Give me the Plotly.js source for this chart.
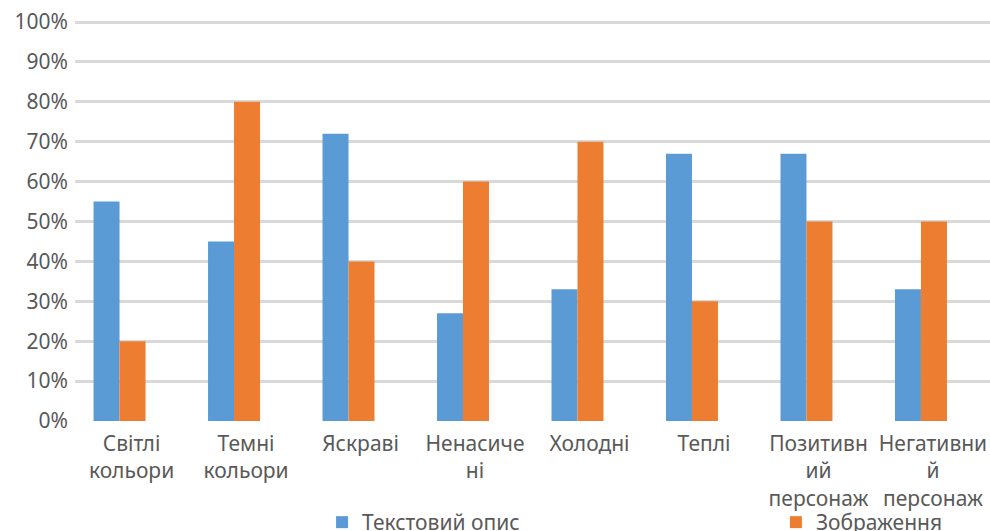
<!DOCTYPE html>
<html>
<head>
<meta charset="utf-8">
<script src="https://cdn.plot.ly/plotly-3.0.1.min.js"></script>
<style>html,body{margin:0;padding:0;background:#fff;}#chart{width:990px;height:531px;}</style>
</head>
<body>
<div id="chart"></div>
<script>
const categories = ["Світлі<br>кольори", "Темні<br>кольори", "Яскраві", "Ненасиче<br>ні", "Холодні", "Теплі", "Позитивн<br>ий<br>персонаж", "Негативни<br>й<br>персонаж"];
const seriesNames = ["Текстовий опис", "Зображення"];
const textValues = [0.55, 0.45, 0.72, 0.27, 0.33, 0.67, 0.67, 0.33];
const imageValues = [0.20, 0.80, 0.40, 0.60, 0.70, 0.30, 0.50, 0.50];
const yTickVals = [0, 0.1, 0.2, 0.3, 0.4, 0.5, 0.6, 0.7, 0.8, 0.9, 1.0];
const yTickText = ["0%", "10%", "20%", "30%", "40%", "50%", "60%", "70%", "80%", "90%", "100%"];

const idx = categories.map((c, i) => i);
const font = {family: "Noto Sans, Open Sans, sans-serif", size: 21, color: "#595959"};

const data = [
  {type: "bar", name: seriesNames[0], x: idx, y: textValues, marker: {color: "#5B9BD5"}, hoverinfo: "y", legend: "legend"},
  {type: "bar", name: seriesNames[1], x: idx, y: imageValues, marker: {color: "#ED7D31"}, hoverinfo: "y", legend: "legend2"}
];

const legendBase = {orientation: "h", xanchor: "left", y: -0.25, yanchor: "middle",
                    font: font, bgcolor: "rgba(0,0,0,0)", itemclick: false};

const layout = {
  width: 990, height: 531,
  paper_bgcolor: "#fff", plot_bgcolor: "#fff",
  margin: {l: 75, r: 0, t: 20, b: 109, autoexpand: false},
  font: font,
  barmode: "group",
  bargap: 0.546,
  bargroupgap: 0,
  showlegend: true,
  legend: Object.assign({}, legendBase, {x: 0.27}),
  legend2: Object.assign({}, legendBase, {x: 0.766}),
  xaxis: {
    tickmode: "array", tickvals: idx, ticktext: categories,
    range: [-0.389, 7.603],
    showgrid: false, zeroline: false, showline: false, ticks: "",
    tickfont: font, ticklabelshift: 12, ticklabelstandoff: 7
  },
  yaxis: {
    range: [-0.0025, 1.005],
    tickmode: "array", tickvals: yTickVals, ticktext: yTickText,
    showgrid: true, gridcolor: "#d9d9d9", gridwidth: 3,
    zeroline: false, showline: false, ticks: "",
    tickfont: font, ticklabelstandoff: 6
  }
};

Plotly.newPlot("chart", data, layout, {displayModeBar: false, staticPlot: true});
</script>
</body>
</html>
